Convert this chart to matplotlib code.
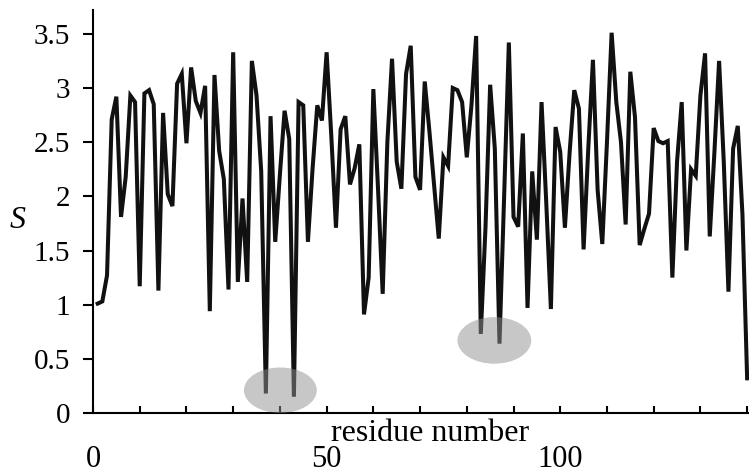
import matplotlib
matplotlib.use("Agg")
import matplotlib.pyplot as plt
from matplotlib.patches import Ellipse

plt.rcParams['font.family'] = ['Liberation Serif', 'DejaVu Serif']

# order parameter S per residue (residues 1..140)
residues = list(range(1, 141))
s_values = [
    1.01, 1.03, 1.27, 2.71, 2.92, 1.81, 2.18, 2.93, 2.87, 1.17,
    2.95, 2.98, 2.85, 1.13, 2.77, 2.02, 1.91, 3.04, 3.13, 2.49,
    3.19, 2.88, 2.77, 3.02, 0.94, 3.12, 2.42, 2.16, 1.14, 3.33,
    1.21, 1.98, 1.21, 3.25, 2.93, 2.23, 0.18, 2.74, 1.58, 2.20,
    2.79, 2.53, 0.15, 2.87, 2.84, 1.58, 2.26, 2.84, 2.70, 3.33,
    2.56, 1.71, 2.62, 2.74, 2.11, 2.26, 2.48, 0.91, 1.25, 2.99,
    2.07, 1.10, 2.50, 3.27, 2.32, 2.07, 3.13, 3.39, 2.18, 2.06,
    3.06, 2.60, 2.10, 1.61, 2.36, 2.28, 3.00, 2.98, 2.87, 2.36,
    2.84, 3.48, 0.73, 1.71, 3.03, 2.44, 0.64, 2.01, 3.42, 1.81,
    1.72, 2.58, 0.97, 2.23, 1.60, 2.87, 1.95, 0.96, 2.64, 2.41,
    1.71, 2.40, 2.98, 2.81, 1.51, 2.44, 3.26, 2.06, 1.56, 2.50,
    3.51, 2.87, 2.50, 1.74, 3.15, 2.73, 1.55, 1.70, 1.84, 2.63,
    2.51, 2.49, 2.51, 1.25, 2.32, 2.87, 1.50, 2.25, 2.19, 2.93,
    3.32, 1.63, 2.41, 3.25, 2.32, 1.12, 2.44, 2.65, 1.83, 0.32,
]

# highlighted minima (centre x, centre y, width, height)
highlight_x = [40.1, 85.9]
highlight_y = [0.21, 0.67]
highlight_w = [15.6, 15.8]
highlight_h = [0.42, 0.43]

fig = plt.figure(figsize=(7.49, 4.73), dpi=100)
ax = fig.add_axes([93 / 749, 60 / 473, 656 / 749, 403 / 473])

ax.plot(residues, s_values, color='#111111', lw=2.9, solid_joinstyle='miter')

for cx, cy, w, h in zip(highlight_x, highlight_y, highlight_w, highlight_h):
    ax.add_patch(Ellipse((cx, cy), w, h, facecolor='#909090', edgecolor='none',
                         alpha=0.5, zorder=3))

ax.set_xlim(0, 140.4)
ax.set_ylim(0, 3.72)

ax.set_xticks([0, 50, 100])
ax.set_xticks(range(0, 141, 10), minor=True)
ax.set_yticks([0, 0.5, 1, 1.5, 2, 2.5, 3, 3.5])
ax.set_yticklabels(['0', '0.5', '1', '1.5', '2', '2.5', '3', '3.5'])

for side in ['top', 'right']:
    ax.spines[side].set_visible(False)
for side in ['left', 'bottom']:
    ax.spines[side].set_linewidth(1.5)

ax.tick_params(axis='x', which='both', direction='in', length=5, width=1.5,
               pad=23, labelsize=22)
ax.tick_params(axis='y', direction='out', length=7.5, width=1.5,
               pad=9, labelsize=21)

fig.text(430 / 749, 1 - 441 / 473, 'residue number', fontsize=23,
         ha='center', va='baseline')
fig.text(18 / 749, 1 - 221 / 473, 'S', fontsize=23, fontstyle='italic',
         ha='center', va='center')

fig.savefig('out.png', dpi=100)
